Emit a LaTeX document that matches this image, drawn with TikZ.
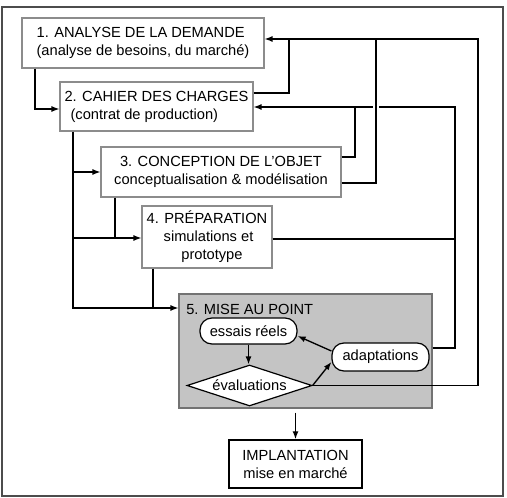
\documentclass[tikz,border=0pt]{standalone}
\usepackage{fontspec}
\setmainfont{Liberation Sans}
\usetikzlibrary{arrows.meta,shapes.geometric,calc}

\begin{document}
\begin{tikzpicture}[x=0.75pt,y=-0.75pt,>={Latex[length=6pt,width=4.5pt]},
  etape/.style={draw=black!45,line width=0.8pt,fill=white,inner sep=0pt,font=\fontsize{11}{13.5}\selectfont},
  bulle/.style={draw,line width=0.9pt,rounded corners=9pt,fill=white,inner sep=0pt,font=\fontsize{11}{13.5}\selectfont},
  lien/.style={line width=1pt}]
\useasboundingbox (0,0) rectangle (507,498);
\draw[line width=1.2pt,draw=black!70] (2,7) rectangle (503,496);

% etapes
\node[etape,minimum width=181.5pt,minimum height=37.5pt,align=left] (b1) at (143,43)
  {1. ANALYSE DE LA DEMANDE\\(analyse de besoins, du marché)};
\node[etape,minimum width=144.75pt,minimum height=36.75pt,align=left] (b2) at (156.5,106.5)
  {2. CAHIER DES CHARGES\\\hspace*{4.5pt}(contrat de production)};
\node[etape,minimum width=180pt,minimum height=37.5pt,align=center] (b3) at (221,172)
  {3. CONCEPTION DE L'OBJET\\conceptualisation \& modélisation};
\node[etape,minimum width=97.5pt,minimum height=46.5pt,align=left] (b4) at (207,237)
  {4. PRÉPARATION\\\hspace*{12.75pt}simulations et\\\hspace*{26pt}prototype};
\node[etape,draw=black!55,fill=black!23,minimum width=189.75pt,minimum height=85.5pt] (b5) at (305.5,351) {};
\node[anchor=west,inner sep=0pt,font=\fontsize{11}{13.5}\selectfont] (t5) at (186,309) {5. MISE AU POINT};
\node[bulle,minimum width=72.75pt,minimum height=19.5pt] (es) at (248.5,331) {essais réels};
\node[bulle,minimum width=72.75pt,minimum height=21pt] (ad) at (380.5,357) {adaptations};
\node[diamond,draw,line width=0.9pt,fill=white,inner sep=0pt,shape aspect=3,
  minimum width=93.75pt,minimum height=30.75pt,font=\fontsize{11}{13.5}\selectfont] (ev) at (249.5,385.5) {évaluations};
\node[etape,draw=black,line width=1.1pt,minimum width=99.75pt,minimum height=36pt,align=center] (im) at (295.5,464)
  {IMPLANTATION\\mise en marché};

% points de passage
\coordinate (k1) at (35,109);
\coordinate (k2) at (289,93);
\coordinate (k3) at (376,183);
\coordinate (k4) at (355,157);
\coordinate (k5) at (455,348);
\coordinate (k6) at (455,239);
\coordinate (r1) at (478,39);
\coordinate (r2) at (455,107);
\coordinate (g1) at (73,308);
\coordinate (g2) at (73,172);
\coordinate (g3) at (73,238);
\coordinate (g4) at (115,238);
\coordinate (g5) at (153,308);

% vers l'etape suivante
\draw[lien,->] (b1.south -| k1) |- (b2.west |- k1);
\draw[lien,->] (b2.south -| g1) |- (b5.west |- g1);
\draw[lien,->] (g2) -- (b3.west |- g2);
\draw[lien,->] (g3) -- (b4.west |- g3);
\draw[lien] (b3.south -| g4) -- (g4);
\draw[lien] (b4.south -| g5) -- (g5);

% retours vers 2
\draw[lien,->] (b5.east |- k5) -| (r2) -- (b2.east |- r2);
\draw[lien] (b3.east |- k4) -| (k4 |- r2);
\draw[lien] (b4.east |- k6) -- (k6);

% retours vers 1
\draw[white,line width=4pt] ($(k3 |- r2)+(0,-6)$) -- ($(k3 |- r2)+(0,6)$);
\draw[lien] (b3.east |- k3) -| (k3 |- r1);
\draw[lien] (b2.east |- k2) -| (k2 |- r1);
\draw[lien,->] (ev.east) -| (r1) -- (b1.east |- r1);

% boucle de mise au point
\draw[lien,->] (es.south) -- (es.south |- ev.north);
\draw[lien,->] (ev.east) -- ($(ad.west)+(0,5)$);
\draw[lien,->] ($(ad.west)+(0,-6)$) -- ($(es.east)+(0,5)$);
\draw[lien,->] ($(b5.south -| im.north)+(0,4)$) -- (im.north);
\end{tikzpicture}
\end{document}
